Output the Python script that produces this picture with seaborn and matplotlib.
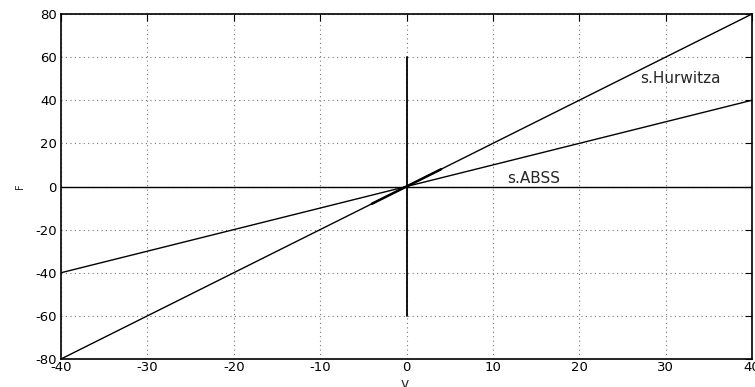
import numpy as np
import pandas as pd
import seaborn as sns
import matplotlib
matplotlib.use("Agg")
import matplotlib.pyplot as plt

# Characteristic lines F(v)
v_range = [-40, 40]
hurwitz_slope = 2.0
abss_slope = 1.0
short_seg_v = [-4, 4]
vertical_F = [-60, 60]

x_ticks = [-40, -30, -20, -10, 0, 10, 20, 30, 40]
y_ticks = [-80, -60, -40, -20, 0, 20, 40, 60, 80]

sns.set_style("white")
plt.rcParams['font.family'] = ['DejaVu Sans']
plt.rcParams['axes.unicode_minus'] = False

W, H = 755, 387
fig = plt.figure(figsize=(W / 100, H / 100), dpi=100)
ax = fig.add_axes([61 / W, 1 - 359 / H, (752 - 61) / W, (359 - 14) / H])

rows = []
for name, slope in [("Hurwitz", hurwitz_slope), ("ABSS", abss_slope)]:
    for v in v_range:
        rows.append({"line": name, "v": v, "F": slope * v})
for v in v_range:
    rows.append({"line": "zero", "v": v, "F": 0.0})
for F in vertical_F:
    rows.append({"line": "vert", "v": 0.0, "F": F})
df = pd.DataFrame(rows)

for name in ["Hurwitz", "ABSS", "zero"]:
    sns.lineplot(data=df[df.line == name], x="v", y="F", ax=ax, color="black",
                 lw=1.0, estimator=None, sort=False)
sns.lineplot(data=df[df.line == "vert"], x="v", y="F", ax=ax, color="black",
             lw=1.3, estimator=None, sort=False, orient="y")

seg = pd.DataFrame({"v": short_seg_v, "F": [hurwitz_slope * v for v in short_seg_v]})
sns.lineplot(data=seg, x="v", y="F", ax=ax, color="black", lw=1.8, estimator=None)

ax.text(27.0, 50.3, "s.Hurwitza", fontsize=11, va="center", ha="left")
ax.text(11.7, 3.6, "s.ABSS", fontsize=11, va="center", ha="left")

ax.set_xlim(-40, 40)
ax.set_ylim(-80, 80)
ax.set_xticks(x_ticks)
ax.set_yticks(y_ticks)
ax.tick_params(direction="in", length=5, width=0.8, labelsize=9.5, pad=3,
               top=True, right=True, colors="black")
ax.tick_params(axis="x", pad=1.5)
ax.grid(True, linestyle=(0, (1, 3)), color="#777777", linewidth=0.8)
for s in ax.spines.values():
    s.set_color("black")
    s.set_linewidth(1.2)
ax.set_xlabel("")
ax.set_ylabel("")

# axis labels
fig.text(405 / W, 1 - 387.5 / H, "v", fontsize=10, ha="center", va="baseline")
fig.text(20 / W, 1 - 186 / H, "F", fontsize=7, ha="center", va="center",
         rotation=90)

fig.savefig("out.png", dpi=100)
